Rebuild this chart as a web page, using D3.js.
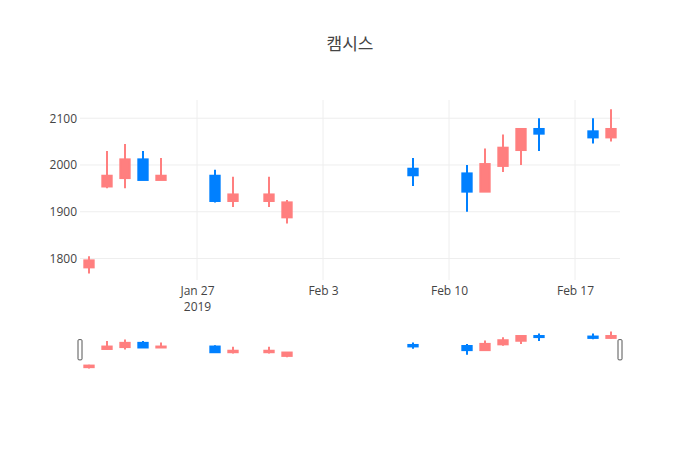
<!DOCTYPE html>
<html>
<head>
<meta charset="utf-8">
<script src="https://cdn.jsdelivr.net/npm/d3@7"></script>
<style>
  body { margin: 0; background: #fff; }
  svg text { font-family: "Open Sans", "Noto Sans CJK KR", sans-serif; }
</style>
</head>
<body>
<div id="chart"></div>
<script>
const title = "캠시스"

const dates = ["2019-01-21", "2019-01-22", "2019-01-23", "2019-01-24", "2019-01-25",
  "2019-01-28", "2019-01-29", "2019-01-31", "2019-02-01", "2019-02-08",
  "2019-02-11", "2019-02-12", "2019-02-13", "2019-02-14", "2019-02-15",
  "2019-02-18", "2019-02-19"]
const open  = [1781, 1954, 1972, 2012, 1968, 1977, 1923, 1923, 1888, 1992, 1982, 1943, 1998, 2032, 2077, 2072, 2059]
const high  = [1805, 2030, 2045, 2030, 2015, 1990, 1975, 1975, 1925, 2015, 2000, 2035, 2065, 2077, 2100, 2100, 2119]
const low   = [1768, 1950, 1950, 1968, 1968, 1920, 1910, 1910, 1875, 1955, 1900, 1943, 1985, 2000, 2030, 2046, 2050]
const close = [1796, 1977, 2012, 1968, 1977, 1923, 1937, 1937, 1920, 1978, 1943, 2002, 2037, 2077, 2067, 2059, 2077]

const xRange = ["2019-01-20T12:00", "2019-02-19T12:00"]
const yRange = [1754, 2139]
const yTicks = [1800, 1900, 2000, 2100]
const xTicks = ["2019-01-27", "2019-02-03", "2019-02-10", "2019-02-17"]

const width = 700, height = 450
const margin = {top: 100, right: 80, bottom: 80, left: 80}
const plotBottom = 280
const slider = {top: 329.5, bottom: 370}

const incColor = "#ff7f7f"
const decColor = "#0080ff"

const parse = d3.utcParse("%Y-%m-%d")
const parseT = d3.utcParse("%Y-%m-%dT%H:%M")

const data = dates.map((d, i) => ({
  date: parse(d), open: open[i], high: high[i], low: low[i], close: close[i]
}))

const svg = d3.select("#chart").append("svg")
  .attr("width", width)
  .attr("height", height)

const x = d3.scaleUtc()
  .domain(xRange.map(parseT))
  .range([margin.left, width - margin.right])

const y = d3.scaleLinear()
  .domain(yRange)
  .range([plotBottom, margin.top])

const ySlider = d3.scaleLinear()
  .domain(yRange)
  .range([slider.bottom, slider.top])

// grid
svg.append("g")
  .selectAll("line")
  .data(yTicks)
  .join("line")
  .attr("x1", margin.left)
  .attr("x2", width - margin.right)
  .attr("y1", d => y(d))
  .attr("y2", d => y(d))
  .attr("stroke", "#eee")

svg.append("g")
  .selectAll("line")
  .data(xTicks.map(parse))
  .join("line")
  .attr("x1", d => x(d))
  .attr("x2", d => x(d))
  .attr("y1", margin.top)
  .attr("y2", plotBottom)
  .attr("stroke", "#eee")

// y axis labels
svg.append("g")
  .attr("transform", "translate(" + margin.left + ",0)")
  .call(d3.axisLeft(y).tickValues(yTicks).tickSize(0).tickPadding(3).tickFormat(d3.format("d")))
  .call(g => g.select(".domain").remove())
  .call(g => g.selectAll("text").attr("fill", "#444").attr("font-size", 12)
    .attr("font-family", "'Open Sans', sans-serif"))

// x axis labels
const fmt = d3.utcFormat("%b %-d")
const xAxis = svg.append("g")
  .attr("transform", "translate(0," + plotBottom + ")")
  .call(d3.axisBottom(x).tickValues(xTicks.map(parse)).tickSize(0).tickPadding(6).tickFormat(fmt))
xAxis.select(".domain").remove()
xAxis.selectAll("text")
  .attr("fill", "#444").attr("font-size", 12)
  .attr("font-family", "'Open Sans', sans-serif")
  .attr("dy", "0.75em")
xAxis.selectAll(".tick").filter((d, i) => i === 0)
  .select("text")
  .append("tspan")
  .attr("x", 0)
  .attr("dy", "1.3em")
  .text("2019")

const dayPx = x(parse("2019-01-22")) - x(parse("2019-01-21"))
const boxW = dayPx * 0.52

function drawCandles(g, ys) {
  const c = g.selectAll("g")
    .data(data)
    .join("g")
    .attr("stroke", d => d.close >= d.open ? incColor : decColor)
    .attr("fill", d => d.close >= d.open ? incColor : decColor)
    .attr("stroke-width", 2)

  c.append("line")
    .attr("x1", d => x(d.date))
    .attr("x2", d => x(d.date))
    .attr("y1", d => ys(d.high))
    .attr("y2", d => ys(d.low))

  c.append("rect")
    .attr("x", d => x(d.date) - boxW / 2)
    .attr("width", boxW)
    .attr("y", d => ys(Math.max(d.open, d.close)))
    .attr("height", d => ys(Math.min(d.open, d.close)) - ys(Math.max(d.open, d.close)))
}

drawCandles(svg.append("g"), y)

// range slider
svg.append("rect")
  .attr("x", margin.left)
  .attr("y", slider.top)
  .attr("width", width - margin.left - margin.right)
  .attr("height", slider.bottom - slider.top)
  .attr("fill", "#fff")

drawCandles(svg.append("g"), ySlider)

const th = slider.bottom - slider.top
svg.append("g")
  .selectAll("rect")
  .data(x.range())
  .join("rect")
  .attr("x", d => d - 2)
  .attr("y", slider.top + th / 4)
  .attr("width", 4)
  .attr("height", th / 2)
  .attr("rx", 1)
  .attr("fill", "#fff")
  .attr("stroke", "#555")
  .attr("stroke-width", 1)

// title
svg.append("text")
  .attr("x", width / 2)
  .attr("y", 50)
  .attr("text-anchor", "middle")
  .attr("font-size", 17)
  .attr("fill", "#444")
  .text(title)
</script>
</body>
</html>
